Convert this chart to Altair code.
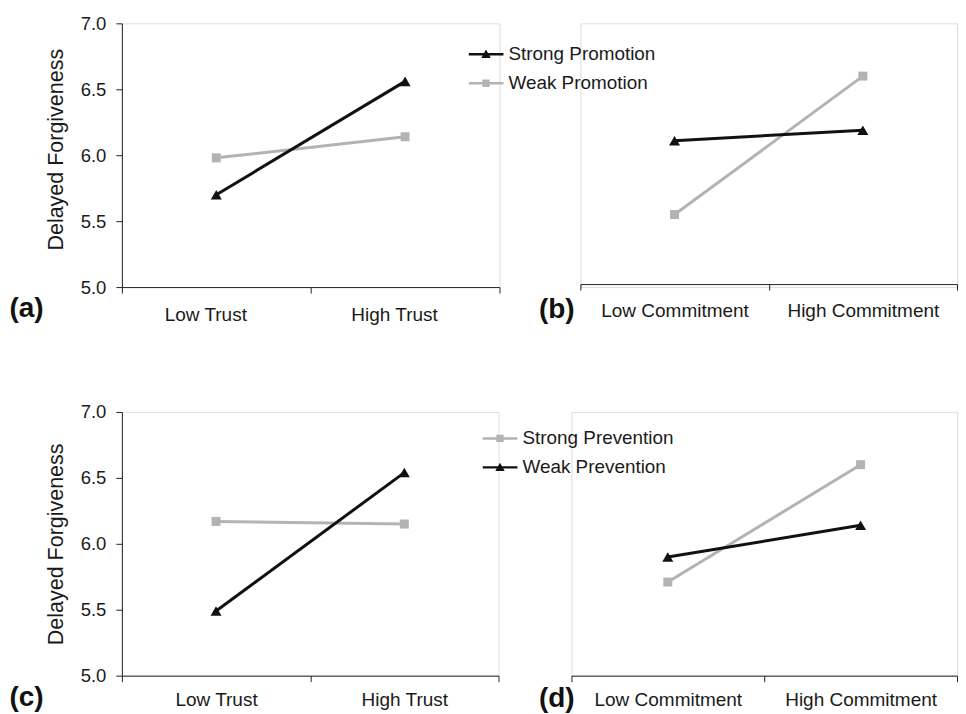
import altair as alt
import pandas as pd

# ---------------- data ----------------
trust_levels = ["Low Trust", "High Trust"]
commit_levels = ["Low Commitment", "High Commitment"]
promotion_series = ["Strong Promotion", "Weak Promotion"]
prevention_series = ["Strong Prevention", "Weak Prevention"]

a_strong_promotion = [5.70, 6.56]
a_weak_promotion = [5.98, 6.14]
b_strong_promotion = [6.11, 6.19]
b_weak_promotion = [5.55, 6.60]
c_strong_prevention = [6.17, 6.15]
c_weak_prevention = [5.49, 6.54]
d_strong_prevention = [5.71, 6.60]
d_weak_prevention = [5.90, 6.14]

y_ticks = [5.0, 5.5, 6.0, 6.5, 7.0]
y_title = "Delayed Forgiveness"
panel_labels = ["(a)", "(b)", "(c)", "(d)"]

# ---------------- style ----------------
BLACK = "#111111"
GRAY = "#b3b3b3"
INK = "#1a1a1a"
AXIS = "#222222"
FONT = "Liberation Sans"
H = 264

TRI_PATH = "M-1,-0.07H1V0.07H-1Z M-0.27,0.21L0,-0.27L0.27,0.21Z"
SQ_PATH = "M-1,-0.07H1V0.07H-1Z M-0.21,-0.21H0.21V0.21H-0.21Z"


def frame(levels, series, values):
    rows = []
    for s, vals in zip(series, values):
        for lv, v in zip(levels, vals):
            rows.append({"level": lv, "series": s, "value": v})
    return pd.DataFrame(rows)


def panel(df, levels, series, colors, markers, paths, width, label,
          label_x, label_y, label_pad, show_y, legend_xy=None,
          axis_offset=0, label_offset=0, y_title_y=None):
    x_axis = alt.Axis(
        title=label, titleX=label_x, titleY=label_y, titleAlign="left",
        titleBaseline="alphabetic", titleAngle=0, titleFont=FONT,
        titleFontSize=28, titleFontWeight="bold", titleColor=BLACK,
        labelAngle=0, labelFont=FONT, labelFontSize=19, labelColor=INK,
        labelPadding=label_pad, labelOffset=label_offset,
        tickBand="extent", tickSize=6, tickColor=AXIS, domainColor=AXIS,
        grid=False, offset=axis_offset,
    )
    x_enc = alt.X("level:N", sort=levels,
                  scale=alt.Scale(domain=levels, paddingInner=0, paddingOuter=0),
                  axis=x_axis)
    if show_y:
        y_kw = dict(
            values=y_ticks, format=".1f", title=y_title, grid=False,
            labelFont=FONT, labelFontSize=18.5, labelColor=INK,
            labelPadding=10, tickSize=6, tickColor=AXIS, domainColor=AXIS,
            titleFont=FONT, titleFontSize=21.5, titleFontWeight="normal",
            titleColor=INK, titlePadding=13,
        )
        if y_title_y is not None:
            y_kw["titleY"] = y_title_y
        y_axis = alt.Axis(**y_kw)
    else:
        y_axis = None
    y_enc = alt.Y("value:Q", scale=alt.Scale(domain=[5, 7], nice=False, zero=False),
                  axis=y_axis)

    base = alt.Chart(df)
    order = sorted(range(len(series)), key=lambda i: 0 if colors[i] == GRAY else 1)
    layers = []
    for i in order:
        layers.append(
            base.transform_filter(alt.datum.series == series[i])
            .mark_line(color=colors[i], strokeWidth=3)
            .encode(x=x_enc, y=y_enc)
        )
    for i in order:
        size = 121 if markers[i] == "triangle-up" else 81
        layers.append(
            base.transform_filter(alt.datum.series == series[i])
            .mark_point(filled=True, color=colors[i], shape=markers[i],
                        size=size, opacity=1)
            .encode(x=x_enc, y=y_enc)
        )
    if legend_xy is not None:
        leg = alt.Legend(
            orient="none", legendX=legend_xy[0], legendY=legend_xy[1],
            title=None, padding=0, rowPadding=0, clipHeight=29,
            symbolSize=1225, symbolStrokeWidth=0, symbolOpacity=1, labelOffset=5,
            labelFont=FONT, labelFontSize=18.9, labelColor=INK,
        )
        layers.append(
            base.mark_point(filled=True, size=0, opacity=1)
            .encode(
                x=x_enc, y=y_enc,
                color=alt.Color("series:N", scale=alt.Scale(domain=series, range=colors),
                                legend=leg),
                shape=alt.Shape("series:N", scale=alt.Scale(domain=series, range=paths),
                                legend=leg),
            )
        )
    return alt.layer(*layers).properties(width=width, height=H)


df_a = frame(trust_levels, promotion_series, [a_strong_promotion, a_weak_promotion])
df_b = frame(commit_levels, promotion_series, [b_strong_promotion, b_weak_promotion])
df_c = frame(trust_levels, prevention_series, [c_strong_prevention, c_weak_prevention])
df_d = frame(commit_levels, prevention_series, [d_strong_prevention, d_weak_prevention])

promo_colors = [BLACK, GRAY]
promo_markers = ["triangle-up", "square"]
promo_paths = [TRI_PATH, SQ_PATH]
prev_colors = [GRAY, BLACK]
prev_markers = ["square", "triangle-up"]
prev_paths = [SQ_PATH, TRI_PATH]

pa = panel(df_a, trust_levels, promotion_series, promo_colors, promo_markers, promo_paths,
           378, panel_labels[0], -113, 29, 12, True, label_offset=-11, y_title_y=126)
pb = panel(df_b, commit_levels, promotion_series, promo_colors, promo_markers, promo_paths,
           377, panel_labels[1], -42, 33, 11, False, legend_xy=(-112, 16.5),
           axis_offset=-3)
pc = panel(df_c, trust_levels, prevention_series, prev_colors, prev_markers, prev_paths,
           377, panel_labels[2], -113, 30, 9, True)
pd_ = panel(df_d, commit_levels, prevention_series, prev_colors, prev_markers, prev_paths,
            386, panel_labels[3], -33, 31, 9, False, legend_xy=(-89, 12))

row1 = alt.hconcat(pa, pb, spacing=81, bounds="flush").resolve_scale(
    color="independent", shape="independent")
row2 = alt.hconcat(pc, pd_, spacing=73, bounds="flush").resolve_scale(
    color="independent", shape="independent")

chart = (
    alt.vconcat(row1, row2, spacing=77)
    .resolve_scale(color="independent", shape="independent")
    .properties(padding={"left": 0, "top": 5, "right": 0, "bottom": 0})
    .configure_view(stroke="transparent", strokeWidth=0)
    .configure(background="white")
)

chart.save("out.html", embed_options={"renderer": "svg", "actions": False})
